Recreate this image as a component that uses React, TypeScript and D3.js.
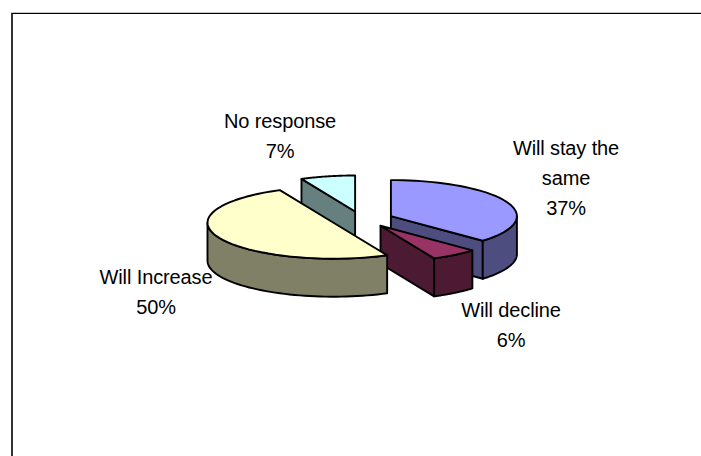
import React from "react";
import * as d3 from "d3";

// Expected change in demand, share of responses (percent).
const categories = ["Will stay the same", "Will decline", "Will Increase", "No response"];
const shares = [37, 6, 50, 7];
const topColors = ["#9999FF", "#993366", "#FFFFCC", "#CCFFFF"];
const wallColors = ["#4D4D80", "#4D1A33", "#808066", "#668080"];
const labelLines = [["Will stay the", "same"], ["Will decline"], ["Will Increase"], ["No response"]];

// Back-to-front painting order of the exploded slices.
const paintOrder = [0, 3, 1, 2];

const WIDTH = 701;
const HEIGHT = 456;
const CENTER_X = 362;
const CENTER_Y = 219.3;
const RADIUS_X = 126;
const RADIUS_Y = 36;
const DEPTH = 38;
const EXPLODE_X = 31.5;
const EXPLODE_Y = 8;
const FONT_SIZE = 20;
const LETTER_SPACING = -0.12;
const LINE_GAP = 30;

// Horizontal centre and first baseline of each label block.
const labelCenters = [566, 511, 156, 280];
const labelBaselines = [155, 317, 284, 128];

const pieAngles = d3
  .pie<number>()
  .sort(null)
  .startAngle(0)
  .endAngle(2 * Math.PI)(shares);

const toPath = d3.line<[number, number]>();
const RIGHT = Math.PI / 2;
const LEFT = (3 * Math.PI) / 2;

function Slice({ index }: { index: number }) {
  const { startAngle: a0, endAngle: a1 } = pieAngles[index];
  const mid = (a0 + a1) / 2;
  const cx = CENTER_X + EXPLODE_X * Math.sin(mid);
  const cy = CENTER_Y - EXPLODE_Y * Math.cos(mid);
  const rim = (a: number, drop = 0): [number, number] => [
    cx + RADIUS_X * Math.sin(a),
    cy - RADIUS_Y * Math.cos(a) + drop,
  ];
  const sweep = (from: number, to: number) =>
    d3.range(0, 49).map((i) => from + ((to - from) * i) / 48);

  const top = toPath([[cx, cy], ...sweep(a0, a1).map((a) => rim(a)), [cx, cy]]) + "Z";

  // Outer wall: only the part of the rim facing the viewer.
  const frontFrom = Math.max(a0, RIGHT);
  const frontTo = Math.min(a1, LEFT);
  const outer =
    frontFrom < frontTo
      ? toPath([
          ...sweep(frontFrom, frontTo).map((a) => rim(a)),
          ...sweep(frontFrom, frontTo).reverse().map((a) => rim(a, DEPTH)),
        ]) + "Z"
      : null;

  // Cut faces turned towards the viewer.
  const cut = (a: number) =>
    toPath([[cx, cy], rim(a), rim(a, DEPTH), [cx, cy + DEPTH]]) + "Z";
  const cuts: string[] = [];
  if (a1 > RIGHT && a1 < Math.PI) cuts.push(cut(a1));
  if (a0 > LEFT) cuts.push(cut(a0));

  const faceStyle = { stroke: "#000", strokeWidth: 1.9, strokeLinejoin: "round" as const };
  return (
    <g>
      {cuts.map((d) => (
        <path key={d} d={d} fill={wallColors[index]} {...faceStyle} />
      ))}
      {outer && <path d={outer} fill={wallColors[index]} {...faceStyle} />}
      <path d={top} fill={topColors[index]} {...faceStyle} />
    </g>
  );
}

export default function App() {
  return (
    <svg
      width={WIDTH}
      height={HEIGHT}
      viewBox={`0 0 ${WIDTH} ${HEIGHT}`}
      style={{ position: "absolute", left: 0, top: 0, display: "block", background: "#fff" }}
    >
      {/* Chart frame: only its top and left edges fall inside the view */}
      <rect x={11} y={13} width={2} height={HEIGHT - 13} fill="#333" />
      <rect x={11} y={12} width={WIDTH - 11} height={1} fill="#c4c4c4" />
      <rect x={12} y={13} width={WIDTH - 12} height={1} fill="#000" />

      {paintOrder.map((i) => (
        <Slice key={categories[i]} index={i} />
      ))}

      <g
        fontFamily="'Liberation Sans', Arial, sans-serif"
        fontSize={FONT_SIZE}
        letterSpacing={LETTER_SPACING}
        fill="#000"
        textAnchor="middle"
      >
        {categories.map((name, i) => (
          <text key={name} x={labelCenters[i]} y={labelBaselines[i]}>
            {[...labelLines[i], `${shares[i]}%`].map((line, j) => (
              <tspan key={line} x={labelCenters[i]} y={labelBaselines[i] + j * LINE_GAP}>
                {line}
              </tspan>
            ))}
          </text>
        ))}
      </g>
    </svg>
  );
}
